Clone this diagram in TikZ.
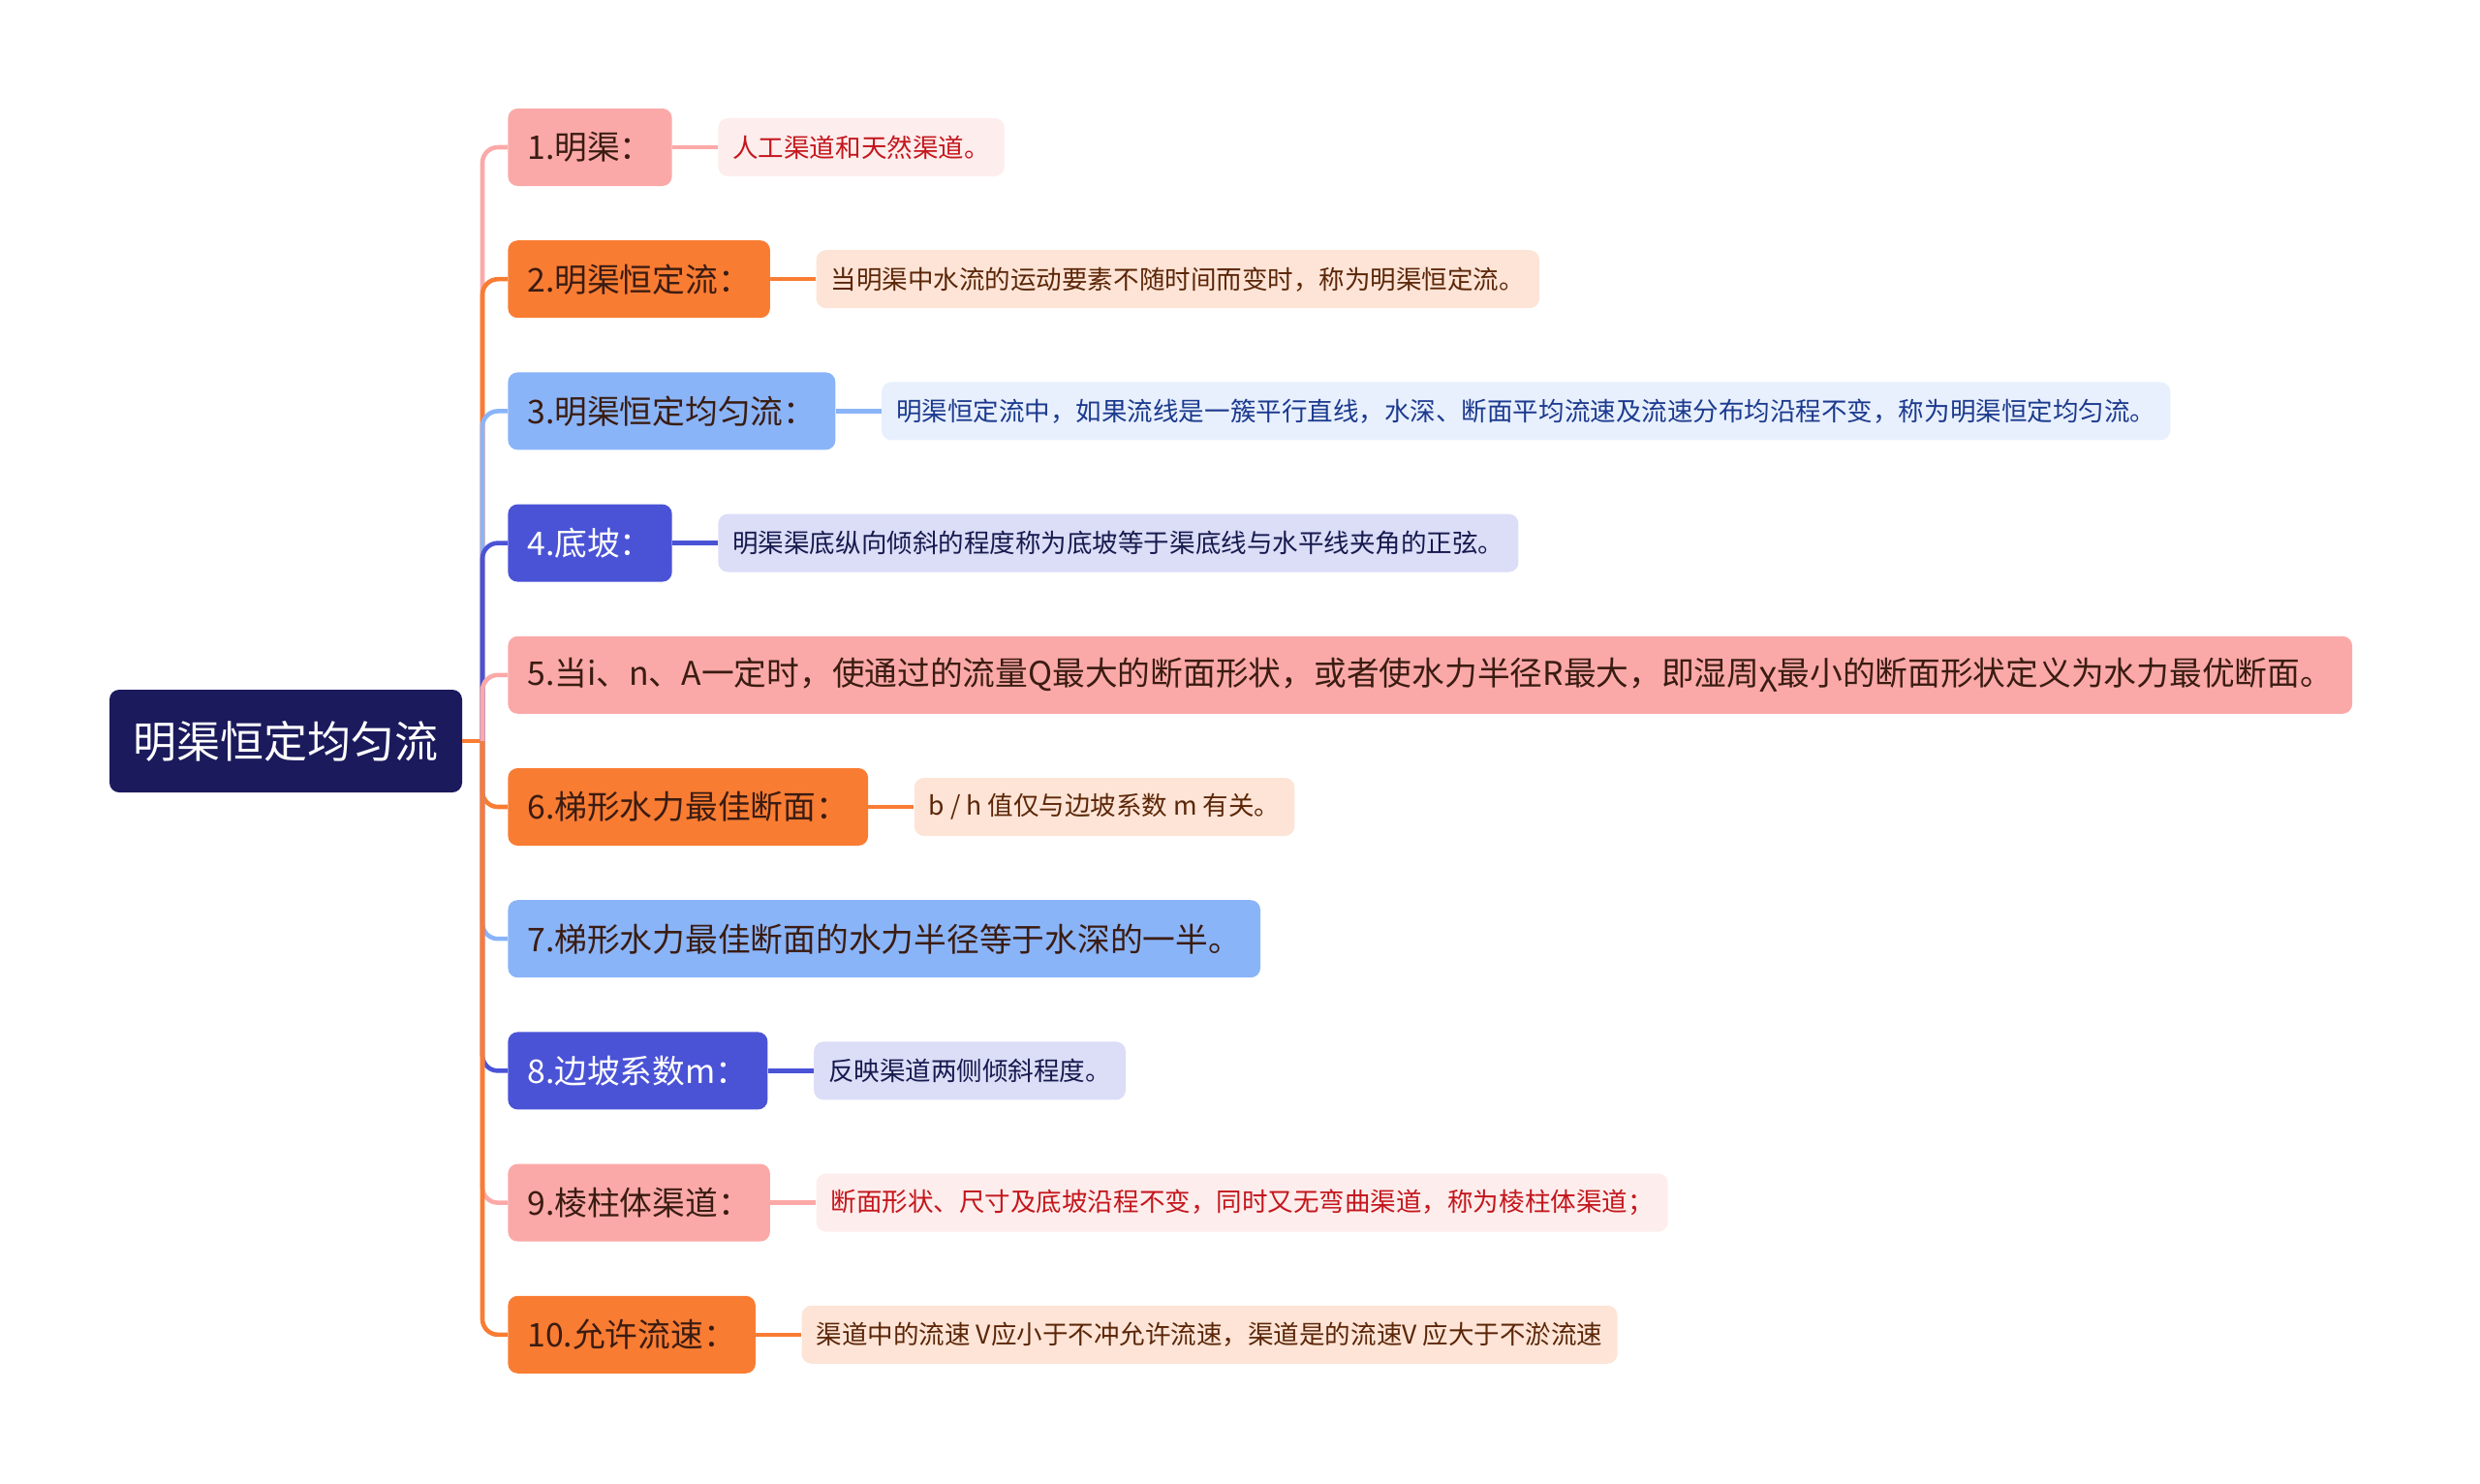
\documentclass[tikz,border=0pt]{standalone}
\usepackage{fontspec}
\setmainfont{Noto Sans CJK SC}
\usetikzlibrary{positioning}

\definecolor{rootc}{HTML}{1B1A5C}
\definecolor{pinkp}{HTML}{FBA9A8}
\definecolor{orangep}{HTML}{F97C33}
\definecolor{bluep}{HTML}{8AB4F8}
\definecolor{indigop}{HTML}{4A53D6}
\definecolor{pinkc}{HTML}{FDEDEC}
\definecolor{orangec}{HTML}{FDE4D6}
\definecolor{bluec}{HTML}{E8F0FD}
\definecolor{indigoc}{HTML}{DCDDF7}
\definecolor{pinkt}{HTML}{C4161C}
\definecolor{oranget}{HTML}{5B2608}
\definecolor{bluet}{HTML}{1C3A8E}
\definecolor{indigot}{HTML}{161A4E}
\definecolor{darkt}{HTML}{3A1C12}

\begin{document}
\begin{tikzpicture}[
    node distance=0.94cm,
    every node/.style={rounded corners=0.2cm,align=left,inner ysep=0pt},
    rootbox/.style={fill=rootc,text=white,minimum width=7.28cm,minimum height=2.12cm,align=center,font=\fontsize{25.6}{30}\selectfont},
    topic/.style 2 args={fill=#1,text=#2,minimum height=1.6cm,inner xsep=0.4cm,font=\fontsize{19.2}{23}\selectfont},
    note/.style 2 args={fill=#1,text=#2,minimum height=1.2cm,inner xsep=0.3cm,font=\fontsize{15.1}{19}\selectfont},
    branch/.style={draw=#1,line width=2.6pt,rounded corners=0.32cm}
  ]
    \useasboundingbox (0,0) rectangle (51.2,-30.62);
    \node[rootbox] (r) at (5.9,-15.3) {明渠恒定均匀流};
    \coordinate (t) at (9.96,-15.3);

    \node[topic={pinkp}{darkt},anchor=west] (p1) at (10.48,-3.04) {1.明渠：};
    \node[topic={orangep}{darkt},below=2.724cm of p1.west,anchor=west] (p2) {2.明渠恒定流：};
    \node[topic={bluep}{darkt},below=2.724cm of p2.west,anchor=west] (p3) {3.明渠恒定均匀流：};
    \node[topic={indigop}{white},below=2.724cm of p3.west,anchor=west] (p4) {4.底坡：};
    \node[topic={pinkp}{darkt},below=2.724cm of p4.west,anchor=west] (p5) {5.当i、n、A一定时，使通过的流量Q最大的断面形状，或者使水力半径R最大，即湿周χ最小的断面形状定义为水力最优断面。};
    \node[topic={orangep}{darkt},below=2.724cm of p5.west,anchor=west] (p6) {6.梯形水力最佳断面：};
    \node[topic={bluep}{darkt},below=2.724cm of p6.west,anchor=west] (p7) {7.梯形水力最佳断面的水力半径等于水深的一半。};
    \node[topic={indigop}{white},below=2.724cm of p7.west,anchor=west] (p8) {8.边坡系数m：};
    \node[topic={pinkp}{darkt},below=2.724cm of p8.west,anchor=west] (p9) {9.棱柱体渠道：};
    \node[topic={orangep}{darkt},below=2.724cm of p9.west,anchor=west] (p10) {10.允许流速：};

    \node[note={pinkc}{pinkt},right=of p1] (c1) {人工渠道和天然渠道。};
    \node[note={orangec}{oranget},right=of p2] (c2) {当明渠中水流的运动要素不随时间而变时，称为明渠恒定流。};
    \node[note={bluec}{bluet},right=of p3] (c3) {明渠恒定流中，如果流线是一簇平行直线，水深、断面平均流速及流速分布均沿程不变，称为明渠恒定均匀流。};
    \node[note={indigoc}{indigot},right=of p4] (c4) {明渠渠底纵向倾斜的程度称为底坡等于渠底线与水平线夹角的正弦。};
    \node[note={orangec}{oranget},right=of p6] (c6) {b / h 值仅与边坡系数 m 有关。};
    \node[note={indigoc}{indigot},right=of p8] (c8) {反映渠道两侧倾斜程度。};
    \node[note={pinkc}{pinkt},right=of p9] (c9) {断面形状、尺寸及底坡沿程不变，同时又无弯曲渠道，称为棱柱体渠道；};
    \node[note={orangec}{oranget},right=of p10] (c10) {渠道中的流速 V应小于不冲允许流速，渠道是的流速V 应大于不淤流速};

    % root to topics
    \draw[branch=orangep] (r.east) -- (t);
    \draw[branch=pinkp] (t) |- (p1.west);
    \draw[branch=orangep] (t) |- (p2.west);
    \draw[branch=bluep] (t) |- (p3.west);
    \draw[branch=indigop] (t) |- (p4.west);
    \draw[branch=pinkp] (t) |- (p5.west);
    \draw[branch=orangep] (t) |- (p6.west);
    \draw[branch=bluep] (t) |- (p7.west);
    \draw[branch=indigop] (t) |- (p8.west);
    \draw[branch=pinkp] (t) |- (p9.west);
    \draw[branch=orangep] (t) |- (p10.west);

    % topics to notes
    \draw[branch=pinkp] (p1) -- (c1);
    \draw[branch=orangep] (p2) -- (c2);
    \draw[branch=bluep] (p3) -- (c3);
    \draw[branch=indigop] (p4) -- (c4);
    \draw[branch=orangep] (p6) -- (c6);
    \draw[branch=indigop] (p8) -- (c8);
    \draw[branch=pinkp] (p9) -- (c9);
    \draw[branch=orangep] (p10) -- (c10);
\end{tikzpicture}
\end{document}
